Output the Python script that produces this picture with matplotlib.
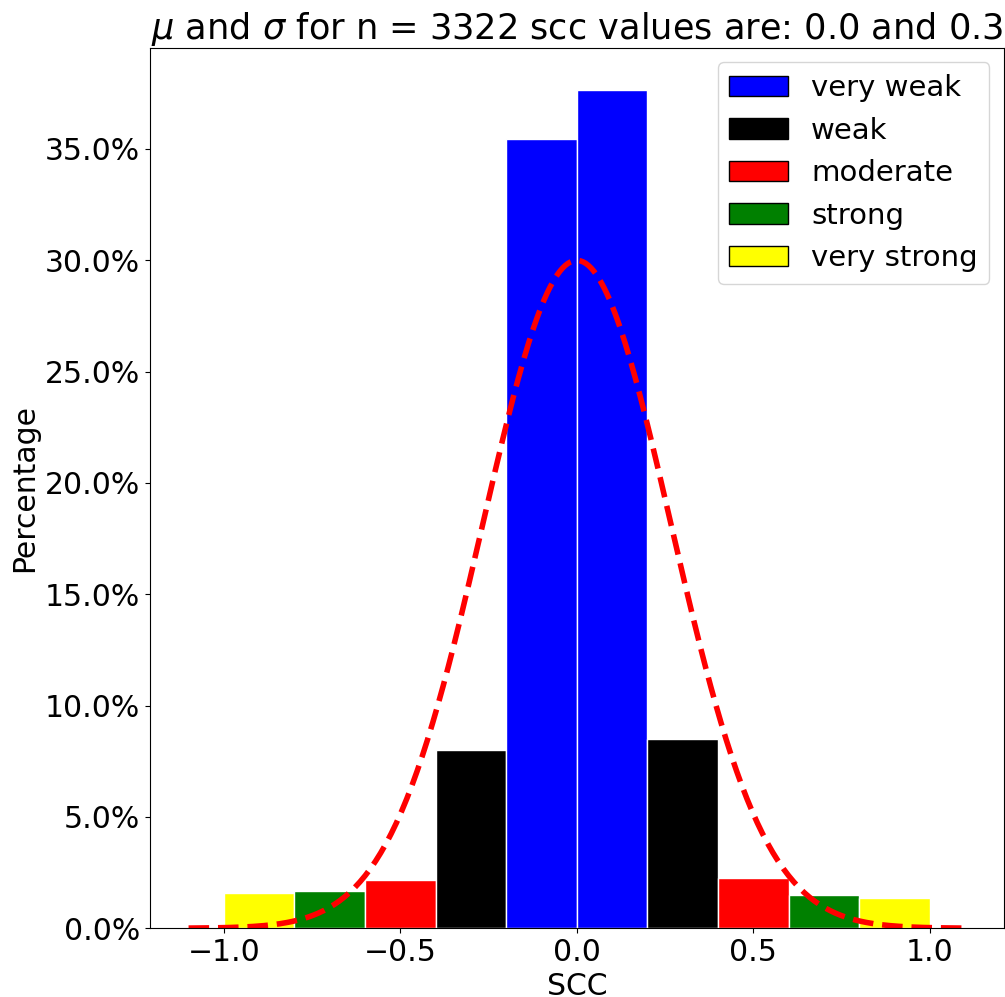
import numpy as np
import matplotlib
matplotlib.use("Agg")
import matplotlib.pyplot as plt
from matplotlib.patches import Patch
from matplotlib.ticker import PercentFormatter

# histogram of scc values, bin width 0.2
bin_edges = [-1.0, -0.8, -0.6, -0.4, -0.2, 0.0, 0.2, 0.4, 0.6, 0.8, 1.0]
pct = [0.0159, 0.0165, 0.0216, 0.0800, 0.3545, 0.3766, 0.0850, 0.0225, 0.0150, 0.0135]
bar_colors = ['yellow', 'green', 'red', 'black', 'blue', 'blue', 'black', 'red', 'green', 'yellow']

categories = ['very weak', 'weak', 'moderate', 'strong', 'very strong']
cat_colors = ['blue', 'black', 'red', 'green', 'yellow']

n = 3322
mu = 0.0
sigma = 0.266
curve_range = (-1.1, 1.1)

plt.rcParams['font.size'] = 21.5

fig, ax = plt.subplots(figsize=(10.05, 9.97), dpi=100)
fig.subplots_adjust(left=0.149, right=0.999, top=0.952, bottom=0.069)

lefts = np.array(bin_edges[:-1])
widths = np.diff(bin_edges)
ax.bar(lefts, pct, width=widths, align='edge', color=bar_colors,
       edgecolor='white', linewidth=1)

# normal curve scaled to bin width
xs = np.linspace(curve_range[0], curve_range[1], 300)
bw = widths[0]
ys = bw * np.exp(-0.5 * ((xs - mu) / sigma) ** 2) / (sigma * np.sqrt(2 * np.pi))
ax.plot(xs, ys, 'r--', linewidth=4)

ax.yaxis.set_major_formatter(PercentFormatter(xmax=1, decimals=1))
ax.set_xlabel('SCC')
ax.set_ylabel('Percentage')
ax.set_title(r'$\mu$ and $\sigma$ for n = %d scc values are: %.1f and %.1f' % (n, mu, round(sigma, 1)),
             fontsize=25.3)

handles = [Patch(facecolor=c, edgecolor='black', label=l) for c, l in zip(cat_colors, categories)]
ax.legend(handles=handles, loc='upper right', fontsize=21)

fig.savefig('out.png', dpi=100)
